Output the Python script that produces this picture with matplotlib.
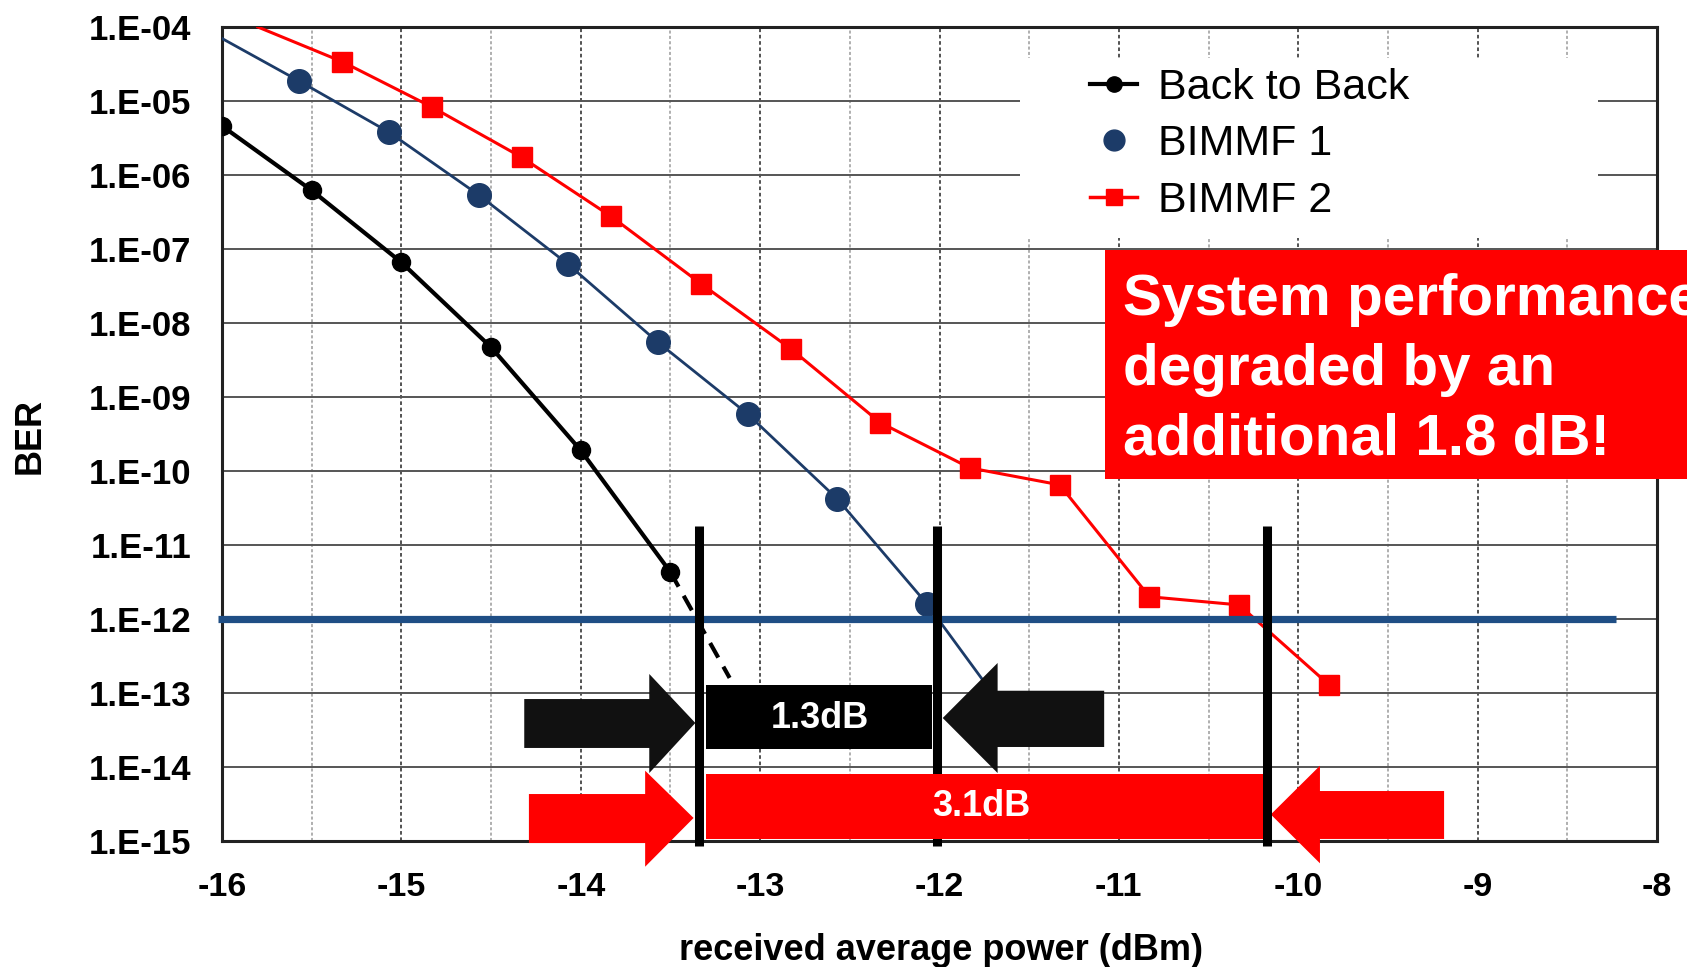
import numpy as np
import matplotlib
matplotlib.use("Agg")
import matplotlib.pyplot as plt
from matplotlib.lines import Line2D
from matplotlib.patches import Polygon, Rectangle
from matplotlib.transforms import blended_transform_factory

# ---------------- data ----------------
b2b_power = [-16.0, -15.5, -15.0, -14.5, -14.0, -13.5]
b2b_ber = [4.6e-6, 6.2e-7, 6.6e-8, 4.7e-9, 1.9e-10, 4.3e-12]
b2b_extrap_power = [-13.5, -13.17]
b2b_extrap_ber = [4.3e-12, 1.6e-13]

bimmf1_power = [-15.57, -15.07, -14.57, -14.07, -13.57, -13.07, -12.57, -12.07]
bimmf1_ber = [1.86e-5, 3.8e-6, 5.4e-7, 6.2e-8, 5.5e-9, 5.9e-10, 4.2e-11, 1.6e-12]
bimmf1_line_start = (-16.0, 7.0e-5)
bimmf1_line_end = (-11.74, 1.3e-13)

bimmf2_power = [-15.33, -14.83, -14.33, -13.83, -13.33, -12.83, -12.33, -11.83,
                -11.33, -10.83, -10.33, -9.83]
bimmf2_ber = [3.4e-5, 8.3e-6, 1.74e-6, 2.75e-7, 3.4e-8, 4.5e-9, 4.5e-10, 1.1e-10,
              6.5e-11, 2.0e-12, 1.55e-12, 1.3e-13]
bimmf2_line_start = (-15.8, 1.0e-4)

ber_threshold = 1e-12
threshold_span = (-16.02, -8.23)
cross_b2b = -13.341
cross_bimmf1 = -12.012
cross_bimmf2 = -10.177

x_ticks = [-16, -15, -14, -13, -12, -11, -10, -9, -8]
y_exps = [-4, -5, -6, -7, -8, -9, -10, -11, -12, -13, -14, -15]
y_tick_labels = ["1.E-04", "1.E-05", "1.E-06", "1.E-07", "1.E-08", "1.E-09",
                 "1.E-10", "1.E-11", "1.E-12", "1.E-13", "1.E-14", "1.E-15"]
legend_labels = ["Back to Back", "BIMMF 1", "BIMMF 2"]
label_small_gap = "1.3dB"
label_big_gap = "3.1dB"
callout_text = "System performance\ndegraded by an\nadditional 1.8 dB!"

# ---------------- style ----------------
FONT = "Liberation Sans"
plt.rcParams["font.family"] = [FONT, "DejaVu Sans"]
BLUE = "#1C3B68"
BLUE_LINE = "#1F4E85"
RED = "#FF0000"

W, H = 1687, 967
fig = plt.figure(figsize=(W / 100, H / 100), dpi=100)
ax = fig.add_axes([222 / W, 1 - 841 / H, (1657 - 222) / W, (841 - 27) / H])
ax.set_yscale("log")
ax.set_xlim(-16, -8)
ax.set_ylim(1e-15, 1e-4)

# grid
ax.set_xticks(x_ticks)
ax.set_xticks(np.arange(-15.5, -8, 1.0), minor=True)
ax.set_xticklabels([str(v) for v in x_ticks])
ax.set_yticks([10.0 ** e for e in y_exps])
ax.set_yticklabels(y_tick_labels)
ax.xaxis.grid(True, which="major", ls=(0, (2, 1.5)), color="#444444", lw=1.3)
ax.xaxis.grid(True, which="minor", ls=(0, (2, 1.5)), color="#9a9a9a", lw=1.1)
ax.yaxis.grid(True, which="major", ls="-", color="#555555", lw=1.4)
ax.yaxis.grid(False, which="minor")

ax.tick_params(axis="x", which="both", length=0, pad=22)
ax.tick_params(axis="y", which="major", length=0, pad=22)
ax.tick_params(axis="y", which="minor", left=False, right=True, direction="in",
               length=6, width=1.2, color="#333333")
for lab in ax.get_yticklabels():
    lab.set_fontweight("bold")
    lab.set_fontsize(25)
for lab in ax.get_xticklabels():
    lab.set_fontweight("bold")
    lab.set_fontsize(24.5)
for sp in ax.spines.values():
    sp.set_linewidth(2.2)
    sp.set_color("#222222")

# legend backdrop (covers grid)
bt = blended_transform_factory(ax.transData, ax.transAxes)
fa = ax.transAxes
ax.add_patch(Rectangle(((1020 - 222) / 1435, (841 - 238) / 814), 578 / 1435, 180 / 814,
                       transform=fa, facecolor="white", edgecolor="none", zorder=1.8))

# curves
ax.plot(b2b_power, b2b_ber, color="black", lw=3.0, marker="o", ms=13, zorder=4)
ax.plot(b2b_extrap_power, b2b_extrap_ber, color="black", lw=3.0, ls=(0, (4, 2.5)), zorder=4)
ax.plot([bimmf1_line_start[0]] + bimmf1_power + [bimmf1_line_end[0]],
        [bimmf1_line_start[1]] + bimmf1_ber + [bimmf1_line_end[1]],
        color=BLUE, lw=2.0, zorder=3)
ax.plot(bimmf1_power, bimmf1_ber, ls="none", marker="o", ms=17, color=BLUE, zorder=4)
ax.plot([bimmf2_line_start[0]] + bimmf2_power, [bimmf2_line_start[1]] + bimmf2_ber,
        color=RED, lw=2.2, zorder=3)
ax.plot(bimmf2_power, bimmf2_ber, ls="none", marker="s", ms=14, color=RED, zorder=4)

# threshold line
ax.plot(threshold_span, [ber_threshold, ber_threshold], color=BLUE_LINE, lw=5.2,
        zorder=5, clip_on=False, solid_capstyle="butt")

# vertical markers
for cx in (cross_b2b, cross_bimmf1, cross_bimmf2):
    ax.plot([cx, cx], [-0.006, 0.387], transform=bt, color="black", lw=6.5,
            zorder=8, clip_on=False, solid_capstyle="butt")


def arrow(tip, base, tail, ytip, yb0, yb1, yh0, yh1, color):
    pts = [(tail, yb0), (base, yb0), (base, yh0), (tip, ytip), (base, yh1), (base, yb1), (tail, yb1)]
    ax.add_patch(Polygon(pts, closed=True, transform=bt, facecolor=color,
                         edgecolor="none", zorder=7, clip_on=False))


# black 1.3 dB annotation
arrow(cross_b2b - 0.02, cross_b2b - 0.277, cross_b2b - 0.974,
      0.145, 0.1143, 0.1744, 0.0835, 0.2052, "#111111")
arrow(cross_bimmf1 + 0.03, cross_bimmf1 + 0.336, cross_bimmf1 + 0.93,
      0.1511, 0.1155, 0.1846, 0.0835, 0.2187, "#111111")
ax.add_patch(Rectangle((cross_b2b + 0.04, 0.113), (cross_bimmf1 - 0.03) - (cross_b2b + 0.04),
                       0.0786, transform=bt, facecolor="black", edgecolor="none", zorder=7))
ax.text((cross_b2b + cross_bimmf1) / 2 + 0.01, 0.150, label_small_gap, transform=bt,
        color="white", fontsize=26, fontweight="bold", ha="center", va="center", zorder=9)

# red 3.1 dB annotation (box covers the middle vertical marker)
arrow(cross_b2b - 0.03, cross_b2b - 0.30, cross_b2b - 0.948,
      0.0283, -0.0025, 0.0577, -0.0316, 0.0864, RED)
arrow(cross_bimmf2 + 0.024, cross_bimmf2 + 0.298, cross_bimmf2 + 0.99,
      0.0326, 0.0025, 0.0614, -0.0274, 0.0925, RED)
ax.add_patch(Rectangle((cross_b2b + 0.04, 0.0025), (cross_bimmf2 - 0.02) - (cross_b2b + 0.04),
                       0.0798, transform=bt, facecolor=RED, edgecolor="none", zorder=8.5))
ax.text((cross_b2b + cross_bimmf2) / 2 - 0.01, 0.042, label_big_gap, transform=bt,
        color="white", fontsize=26, fontweight="bold", ha="center", va="center", zorder=9)

# legend
handles = [
    Line2D([], [], color="black", lw=3.0, marker="o", ms=11),
    Line2D([], [], color=BLUE, ls="none", marker="o", ms=15),
    Line2D([], [], color=RED, lw=2.5, marker="s", ms=12),
]
fig.legend(handles, legend_labels, loc="upper left",
           bbox_to_anchor=(1090 / W, 1 - 68 / H), frameon=False, fontsize=31,
           handlelength=1.1, handletextpad=0.48, labelspacing=0.38, borderpad=0,
           borderaxespad=0)

# callout box
fig.patches.append(Rectangle((1105 / W, 1 - 479 / H), 0.5, 229 / H,
                             transform=fig.transFigure, facecolor=RED,
                             edgecolor="none", zorder=10))
fig.text(1123 / W, 1 - 273 / H, callout_text, color="white", fontsize=42,
         fontweight="bold", ha="left", va="top", linespacing=1.37, zorder=11)

# axis labels
fig.text(30 / W, 1 - 436 / H, "BER", rotation=90, fontsize=26, fontweight="bold",
         ha="center", va="center")
fig.text(941 / W, 1 - 951 / H, "received average power (dBm)", fontsize=26,
         fontweight="bold", ha="center", va="center")

fig.savefig("out.png", dpi=100)
